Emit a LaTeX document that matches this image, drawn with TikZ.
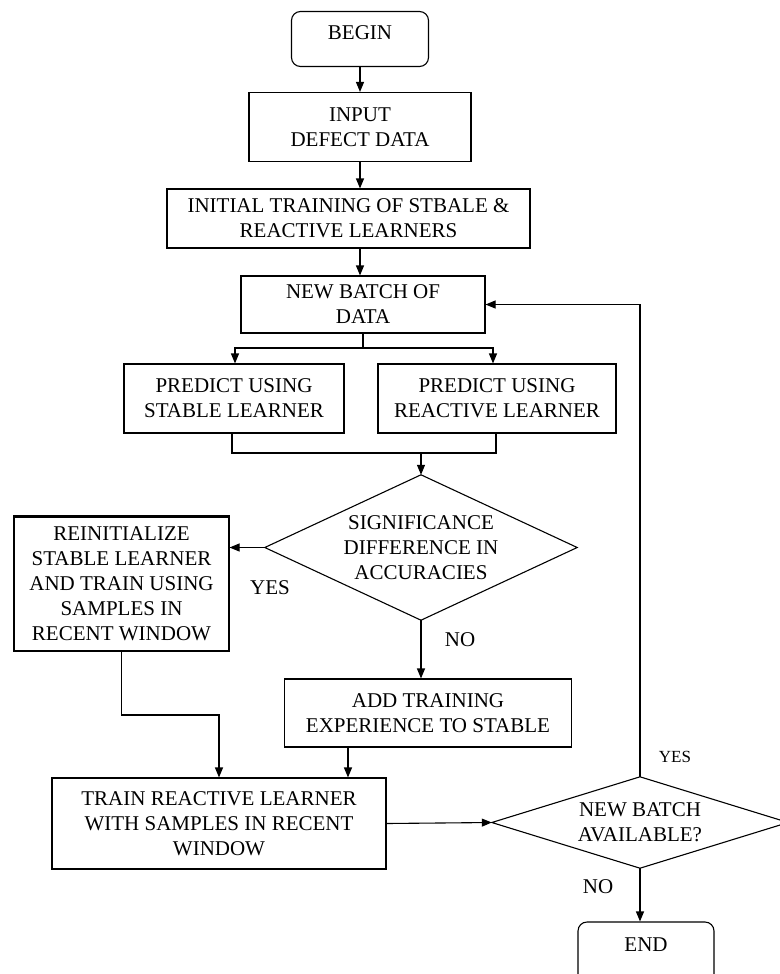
\documentclass[tikz,border=0pt]{standalone}
\usepackage{fontspec}
\setmainfont{Liberation Serif}
\usetikzlibrary{arrows.meta}
\begin{document}
\begin{tikzpicture}[x=1pt,y=-1pt,
  every node/.style={font=\fontsize{21}{25}\selectfont, align=center, inner sep=0pt},
  procbox/.style={draw, line width=1.1pt, rectangle},
  termbox/.style={draw, line width=1.1pt, rectangle, rounded corners=9pt},
  decarea/.style={rectangle, inner sep=0pt},
  conn/.style={line width=1.1pt},
  arr/.style={conn, -{Triangle[length=10pt,width=8pt]}},
  lbl/.style={font=\fontsize{21}{24}\selectfont},
  smalllbl/.style={font=\fontsize{17}{20}\selectfont}
]
\useasboundingbox (0,0) rectangle (779,974);
\fill[white] (0,0) rectangle (779,974);

% nodes
\node[termbox, minimum width=137pt, minimum height=55pt,
      label={[yshift=6pt, font=\fontsize{21}{25}\selectfont]center:BEGIN}] (begin) at (360,39) {};
\node[procbox, minimum width=222pt, minimum height=69pt] (input) at (360,127) {INPUT\\DEFECT DATA};
\node[procbox, minimum width=363pt, minimum height=59pt] (init) at (348.5,218.5) {INITIAL TRAINING OF STBALE \&\\REACTIVE LEARNERS};
\node[procbox, minimum width=244pt, minimum height=57pt] (newbatch) at (363,304.5) {NEW BATCH OF\\DATA};
\node[procbox, minimum width=220pt, minimum height=69pt] (stable) at (234,398.5) {PREDICT USING\\STABLE LEARNER};
\node[procbox, minimum width=238pt, minimum height=69pt] (reactive) at (497,398.5) {PREDICT USING\\REACTIVE LEARNER};
\node[decarea, minimum width=312pt, minimum height=145pt] (sig) at (421,547.5) {SIGNIFICANCE\\DIFFERENCE IN\\ACCURACIES};
\draw[conn, line join=miter] (sig.north) -- (sig.east) -- (sig.south) -- (sig.west) -- cycle;
\node[procbox, minimum width=215pt, minimum height=134pt] (reinit) at (121.5,584) {REINITIALIZE\\STABLE LEARNER\\AND TRAIN USING\\SAMPLES IN\\RECENT WINDOW};
\draw[line width=2.4pt] (reinit.north west) -- (reinit.north east);
\node[procbox, minimum width=287pt, minimum height=68pt] (add) at (428,713) {ADD TRAINING\\EXPERIENCE TO STABLE};
\node[procbox, minimum width=334pt, minimum height=91pt] (train) at (219,823.5) {TRAIN REACTIVE LEARNER\\WITH SAMPLES IN RECENT\\WINDOW};
\node[decarea, minimum width=296pt, minimum height=91pt] (avail) at (640,822.5) {NEW BATCH\\AVAILABLE?};
\draw[conn, line join=miter] (avail.north) -- (avail.east) -- (avail.south) -- (avail.west) -- cycle;
\node[termbox, minimum width=136pt, minimum height=62pt,
      label={[yshift=8pt, font=\fontsize{21}{25}\selectfont]center:END}] (end) at (646,953) {};

% labels
\node[lbl] (yes1) at (270,588) {YES};
\node[lbl] (no1) at (460,640) {NO};
\node[smalllbl] (yes2) at (675,757) {YES};
\node[lbl] (no2) at (598,887) {NO};

% connectors
\draw[arr] (begin.south) -- (input.north);
\draw[arr] (input.south) -- (input.south |- init.north);
\draw[arr] (input.south |- init.south) -- (input.south |- newbatch.north);
\coordinate (split) at (363,348);
\draw[conn] (newbatch.south) -- (split);
\draw[arr] (split) -| ([xshift=1pt]stable.north);
\draw[arr] (split) -| ([xshift=-4pt]reactive.north);
\coordinate (join) at (421,453);
\draw[conn] ([xshift=-2pt]stable.south) |- (join) -| ([xshift=-1pt]reactive.south);
\draw[arr] (join) -- (sig.north);
\draw[arr] (sig.west) -- (sig.west -| reinit.east);
\draw[arr] (sig.south) -- (sig.south |- add.north);
\coordinate (bend) at (219,715);
\draw[arr] (reinit.south) |- (bend) -- (train.north);
\draw[arr] ([xshift=-80pt]add.south) -- ([xshift=-80pt]add.south |- train.north);
\draw[arr] (train.east) -- (avail.west);
\draw[arr] (avail.north) |- (newbatch.east);
\draw[arr] (avail.south) -- (avail.south |- end.north);
\end{tikzpicture}
\end{document}
